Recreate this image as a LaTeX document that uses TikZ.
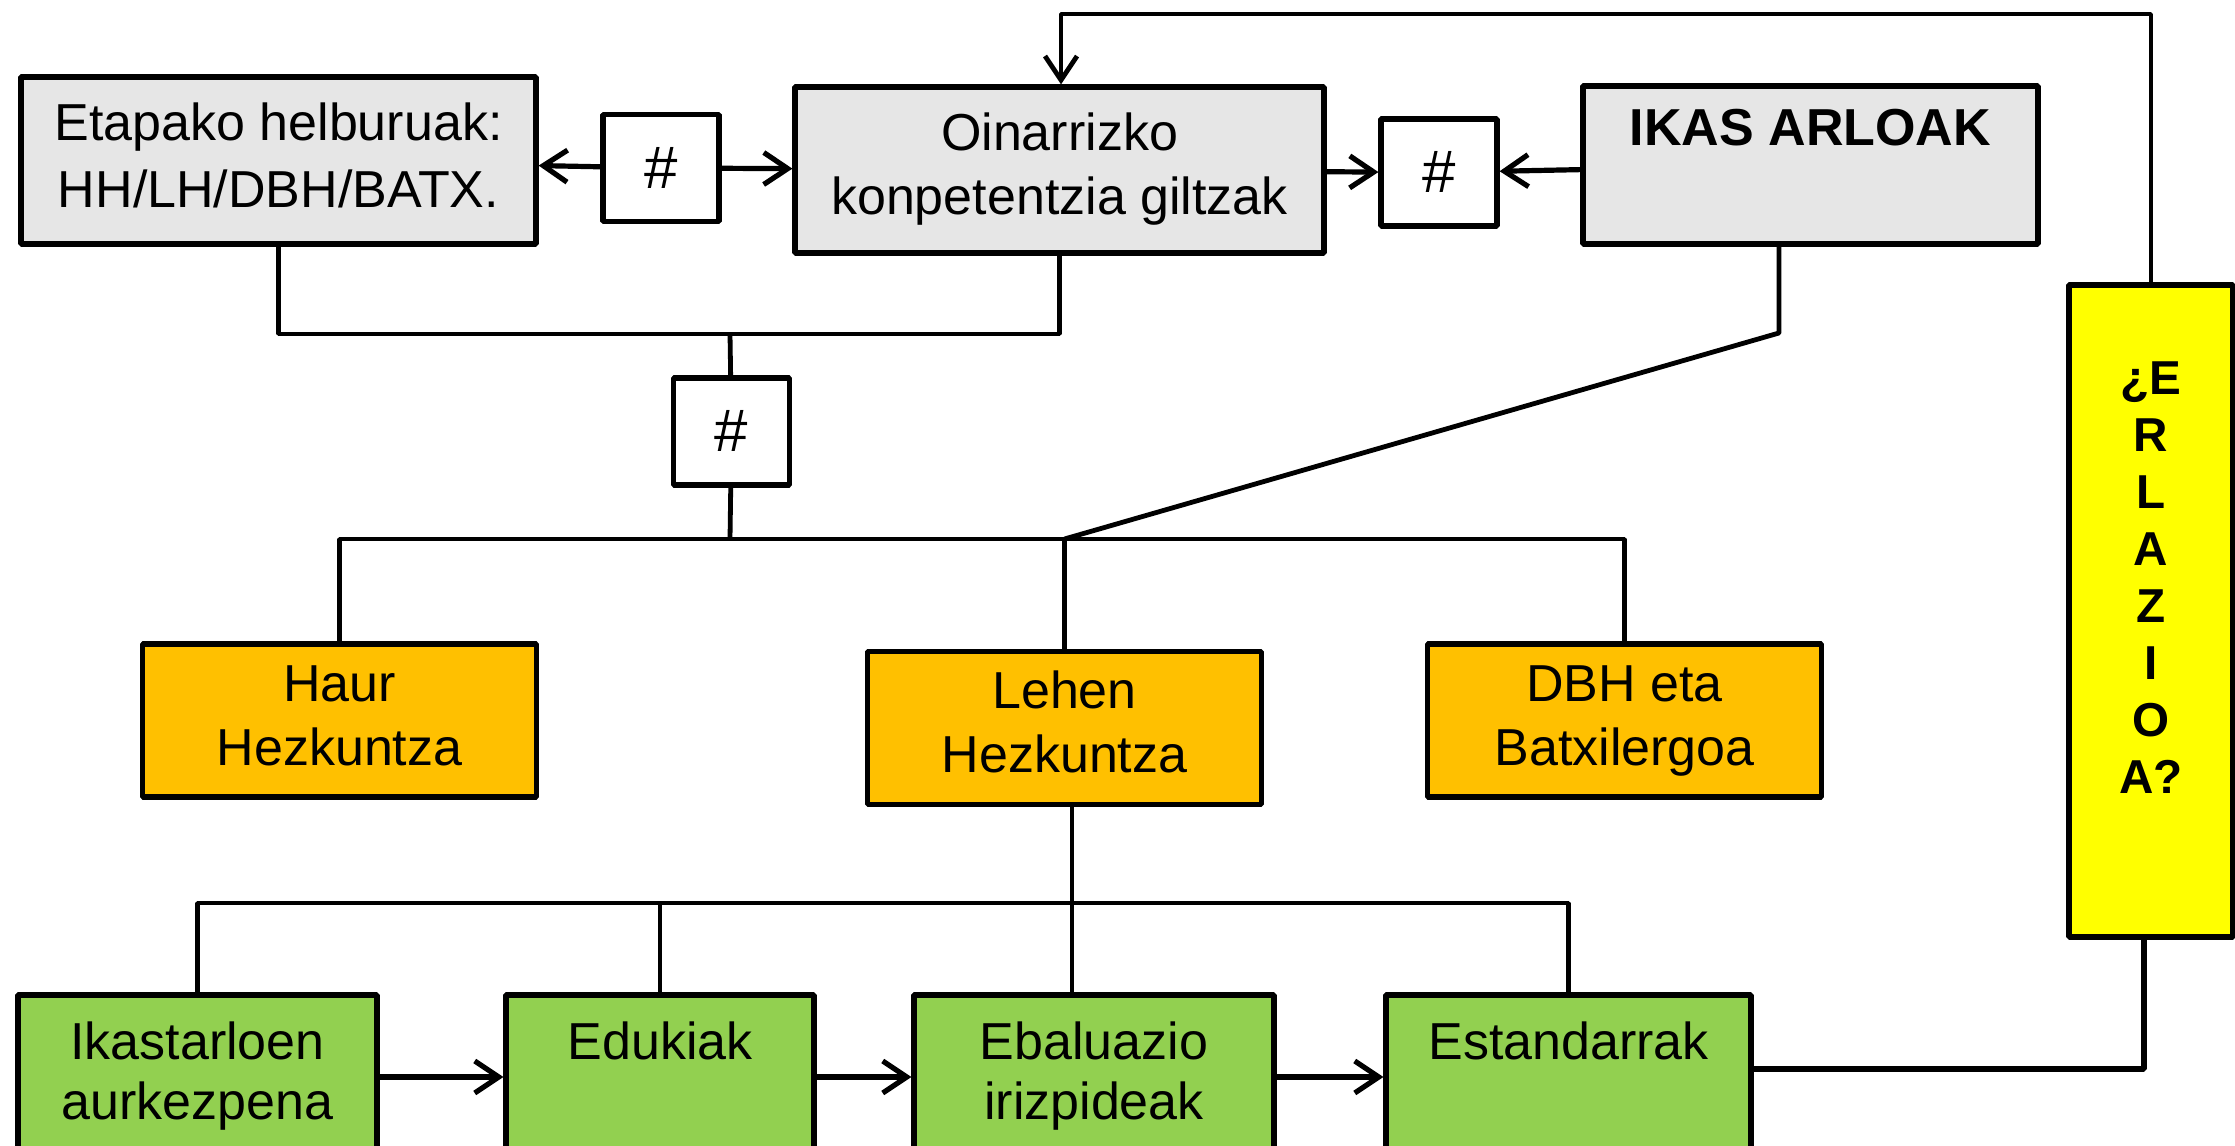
\documentclass[tikz,border=0pt]{standalone}
\usepackage{fontspec}
\setmainfont{Liberation Sans}
\usetikzlibrary{arrows.meta}
\definecolor{boxgrey}{RGB}{230,230,230}
\definecolor{stageorange}{RGB}{255,192,0}
\definecolor{areagreen}{RGB}{146,208,80}
\definecolor{relyellow}{RGB}{255,255,0}
\begin{document}
\begin{tikzpicture}[>={Straight Barb[length=6bp,width=8bp]},line join=bevel,line width=1.2bp,
  box/.style={draw=black,rectangle,line width=1.3bp,inner sep=0pt,align=center,font=\fontsize{13bp}{16bp}\selectfont},
  greybox/.style={box,fill=boxgrey},
  hashbox/.style={box,fill=white,minimum width=29bp,minimum height=26.75bp,font=\fontsize{15bp}{16bp}\selectfont},
  stagebox/.style={box,fill=stageorange,minimum width=98.5bp,minimum height=38.25bp},
  areabox/.style={box,fill=areagreen,minimum height=41bp,font=\fontsize{13bp}{15bp}\selectfont},
  arrowline/.style={->,solid,line width=1.3bp},]
%%
\useasboundingbox (0bp,0bp) rectangle (558.75bp,286.5bp);
\node (etapa) at (69.63bp,246.38bp) [greybox,minimum width=128.75bp,minimum height=41.75bp,font=\fontsize{13bp}{16.75bp}\selectfont] {\strut Etapako helburuak:\\\strut HH/LH/DBH/BATX.};
  \node (hash_l) at (165.25bp,244.5bp) [hashbox] {\#};
  \node (oinarri) at (264.88bp,244bp) [greybox,minimum width=132.25bp,minimum height=41.5bp] {\strut Oinarrizko\\\strut konpetentzia giltzak};
  \node (hash_r) at (359.75bp,243.38bp) [hashbox] {\#};
  \node (ikas) at (452.63bp,245.25bp) [greybox,minimum width=113.75bp,minimum height=39.5bp] {\strut\textbf{IKAS ARLOAK}\\\strut};
  \node (hash_m) at (182.88bp,178.63bp) [hashbox] {\#};
  \node (haur) at (84.88bp,106.38bp) [stagebox] {\strut Haur\\\strut Hezkuntza};
  \node (lehen) at (266.13bp,104.5bp) [stagebox] {\strut Lehen\\\strut Hezkuntza};
  \node (dbh) at (406.13bp,106.38bp) [stagebox] {\strut DBH eta\\\strut Batxilergoa};
  \node (ikast) at (49.38bp,17.25bp) [areabox,minimum width=89.75bp] {\strut Ikastarloen\\\strut aurkezpena};
  \node (eduki) at (165bp,17.25bp) [areabox,minimum width=77bp] {\strut Edukiak\\\strut};
  \node (ebal) at (273.5bp,17.25bp) [areabox,minimum width=90bp] {\strut Ebaluazio\\\strut irizpideak};
  \node (estand) at (392.13bp,17.25bp) [areabox,minimum width=91.25bp] {\strut Estandarrak\\\strut};
  \node (erlazio) at (537.75bp,133.75bp) [box,fill=relyellow,minimum width=41bp,minimum height=163bp,font=\bfseries\fontsize{11.9bp}{14.25bp}\selectfont] {\strut ¿E\\\strut R\\\strut L\\\strut A\\\strut Z\\\strut I\\\strut O\\\strut A?\\\strut};
  \coordinate (top_r) at (537.75bp,283bp);
  \coordinate (top_l) at (265.25bp,283bp);
  \coordinate (top_join) at (182.5bp,203bp);
  \coordinate (mid_join) at (182.5bp,151.75bp);
  \coordinate (bar_l) at (84.88bp,151.75bp);
  \coordinate (bar_c) at (266.13bp,151.75bp);
  \coordinate (bar_r) at (406.13bp,151.75bp);
  \coordinate (ikas_bend) at (444.75bp,203.25bp);
  \coordinate (low_l) at (49.38bp,60.75bp);
  \coordinate (low_c) at (268bp,60.75bp);
  \coordinate (low_r) at (392.13bp,60.75bp);
  \coordinate (rel_b) at (536bp,19.25bp);
  \draw [arrowline] (hash_l) -- (etapa);
  \draw [arrowline] (hash_l) -- (oinarri);
  \draw [arrowline] (oinarri) -- (hash_r);
  \draw [arrowline] (ikas) -- (hash_r);
  \draw [->,solid] (erlazio) -- (top_r) -- (top_l) -- (top_l |- oinarri.north);
  \draw [solid] (etapa.south) |- (top_join) -| (oinarri.south);
  \draw [solid] (top_join) -- (hash_m);
  \draw [solid] (hash_m) -- (mid_join);
  \draw [solid] (haur) -- (bar_l) -- (bar_r) -- (dbh);
  \draw [solid] (bar_c) -- (lehen);
  \draw [solid] (ikas.south -| ikas_bend) -- (ikas_bend) -- (bar_c);
  \draw [solid] (lehen.south -| low_c) -- (low_c);
  \draw [solid] (ikast) -- (low_l) -- (low_r) -- (estand);
  \draw [solid] (eduki.north) -- (eduki.north |- low_l);
  \draw [solid] (low_c) -- (low_c |- ebal.north);
  \draw [arrowline] (ikast) -- (eduki);
  \draw [arrowline] (eduki) -- (ebal);
  \draw [arrowline] (ebal) -- (estand);
  \draw [solid,line width=1.3bp] (estand.east |- rel_b) -- (rel_b) -- (rel_b |- erlazio.south);
%
\end{tikzpicture}
\end{document}
